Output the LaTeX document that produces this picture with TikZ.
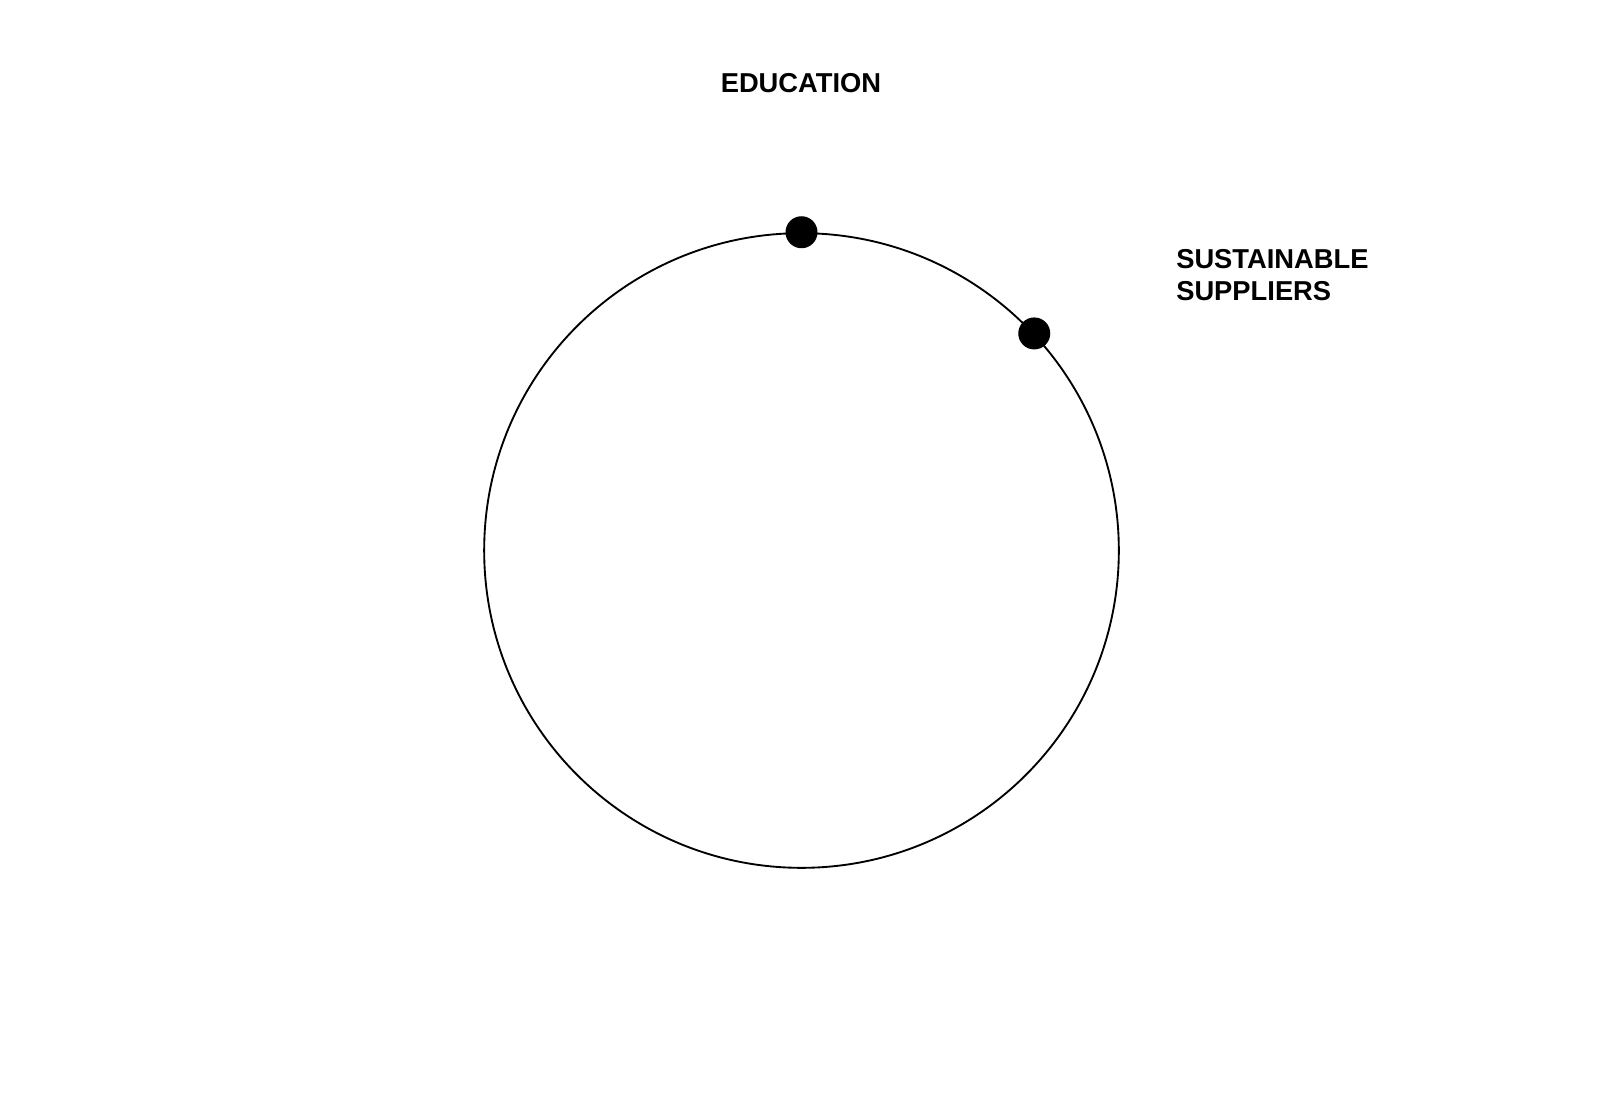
\documentclass[tikz,border=0pt]{standalone}
\usepackage{fontspec}
\setmainfont{Liberation Sans}
\usepackage{tikz}

\tikzset{
    dot/.style={circle, fill=black, inner sep=0pt, minimum size=24pt},
    lbl/.style={inner sep=0pt, font=\fontsize{20.5}{24}\selectfont\bfseries}
}

\begin{document}
\begin{tikzpicture}[x=0.75pt, y=-0.75pt]
            \useasboundingbox (0, 0) rectangle (1600, 1100);

            \node[circle, draw, line width=1.4pt, inner sep=0pt, minimum size=476pt] at (801.5, 550.5) (ring) {};

            \node[dot] at (ring.north) (edu dot) {};
            \node[dot] at (ring.43) (supp dot) {};

            \node[lbl, anchor=north] at (801, 73) (edu) {EDUCATION};
            \node[lbl, anchor=north west, align=left] at (1176, 249) (supp) {SUSTAINABLE\\SUPPLIERS};
        \end{tikzpicture}
\end{document}
